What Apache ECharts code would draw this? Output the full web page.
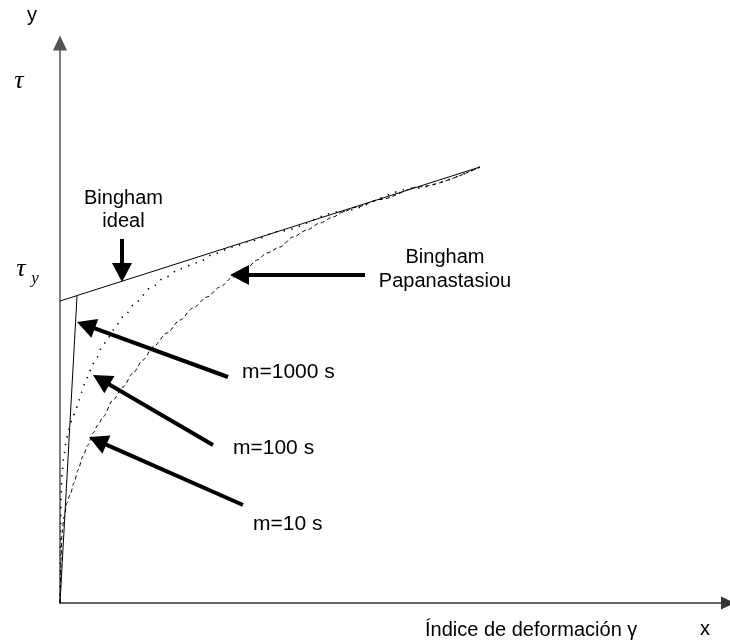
<!DOCTYPE html>
<html>
<head>
<meta charset="utf-8">
<script src="https://cdn.jsdelivr.net/npm/echarts@6/dist/echarts.min.js"></script>
<style>
html,body{margin:0;padding:0;background:#fff;}
#chart{width:730px;height:641px;}
</style>
</head>
<body>
<div id="chart"></div>
<script>
// Data in chart units (shear rate γ on x, stress τ on y)
const binghamIdeal = [[0, 302], [420, 436]];
const m1000 = [[0, 0], [17, 307]];
const m100 = [[0,0],[0.3,30],[0.7,80],[1,105],[2,130],[4,148],[6,160],[8,170],[10,177],[12,184],[16,193],[18,201],[22,211],[25,220],[29,229],[32,238],[37,246],[42,256],[47,263],[53,273],[63,286],[77,301.6],[90,314.7],[105,325.5],[120,334.3],[137,340.2],[155,349.4],[173,356],[190,361.8],[220,371.8],[280,391.3],[353,414.6],[420,436]];
const m10 = [[0,0],[0.5,13],[1,43],[2,70],[4,86],[7,100],[10,108],[14,120],[18,133],[23,147],[28,158],[33,170],[38,178],[43,186],[53,203],[63,216],[73,230],[83,243],[93,256],[107,270],[120,283],[133,295],[147,306],[160,316],[173,326],[187,335],[197,343],[207,350],[220,356],[233,366],[247,373],[260,380],[273,386],[283,391],[295,395.5],[320,403.5],[360,416.3],[420,436]];
// annotation arrows: [tail, head centre] in chart units
const annotationArrows = [
  [[62, 364], [62, 330.5]],
  [[305, 328], [179.5, 328]],
  [[168, 226], [25.9, 277.8]],
  [[153, 158], [41.2, 223.2]],
  [[183, 98], [37.7, 162.2]]
];
const xMax = 668, yMax = 560;

const chart = echarts.init(document.getElementById('chart'), null, {renderer: 'canvas'});
const sans = '"Liberation Sans", Arial, sans-serif';
const serif = '"Liberation Serif", "Times New Roman", serif';
function txt(text, x, y, align, font) {
  return {type: 'text', style: {text: text, x: x, y: y, align: align, verticalAlign: 'middle', font: font || ('20px ' + sans), fill: '#000'}, silent: true};
}
chart.setOption({
  animation: false,
  backgroundColor: '#fff',
  grid: {left: 60, top: 43, right: 2, bottom: 38, containLabel: false},
  xAxis: {
    type: 'value', min: 0, max: xMax,
    axisLine: {show: true, onZero: false, symbol: ['none', 'triangle'], symbolSize: [13, 14], lineStyle: {color: '#333', width: 1.5}},
    axisTick: {show: false}, axisLabel: {show: false}, splitLine: {show: false}
  },
  yAxis: {
    type: 'value', min: 0, max: yMax,
    axisLine: {show: true, onZero: false, symbol: ['none', 'triangle'], symbolSize: [14, 15], lineStyle: {color: '#555', width: 1.5}},
    axisTick: {show: false}, axisLabel: {show: false}, splitLine: {show: false}
  },
  series: [
    {type: 'line', name: 'Bingham ideal', data: binghamIdeal, symbol: 'none', lineStyle: {color: '#000', width: 1},
     markLine: {
       silent: true, symbol: ['none', 'triangle'], symbolSize: [20, 19],
       label: {show: false}, emphasis: {disabled: true},
       lineStyle: {color: '#000', width: 4, type: 'solid'},
       itemStyle: {color: '#000'},
       data: annotationArrows.map(a => [{coord: a[0]}, {coord: a[1]}])
     }},
    {type: 'line', name: 'm=1000 s', data: m1000, symbol: 'none', lineStyle: {color: '#000', width: 1}},
    {type: 'line', name: 'm=100 s', data: m100, symbol: 'none', smooth: 0.3, smoothMonotone: 'x', lineStyle: {color: '#000', width: 1.6, type: [1.4, 6.5]}},
    {type: 'line', name: 'm=10 s', data: m10, symbol: 'none', smooth: 0.3, smoothMonotone: 'x', lineStyle: {color: '#000', width: 1, type: [4, 3]}}
  ],
  graphic: [
    txt('y', 32, 15.5, 'center'),
    txt('x', 705, 629, 'center'),
    txt('τ', 19, 81, 'center', 'italic 26px ' + serif),
    txt('τ', 21, 269, 'center', 'italic 26px ' + serif),
    txt('y', 35, 279, 'center', 'italic 17px ' + serif),
    txt('Bingham', 123.5, 198, 'center'),
    txt('ideal', 123.5, 221, 'center'),
    txt('Bingham', 445, 257, 'center'),
    txt('Papanastasiou', 445, 281, 'center'),
    txt('m=1000 s', 242, 372, 'left', '21px ' + sans),
    txt('m=100 s', 233, 448, 'left', '21px ' + sans),
    txt('m=10 s', 253, 524, 'left', '21px ' + sans),
    txt('Índice de deformación γ', 425, 630, 'left')
  ]
});
</script>
</body>
</html>
